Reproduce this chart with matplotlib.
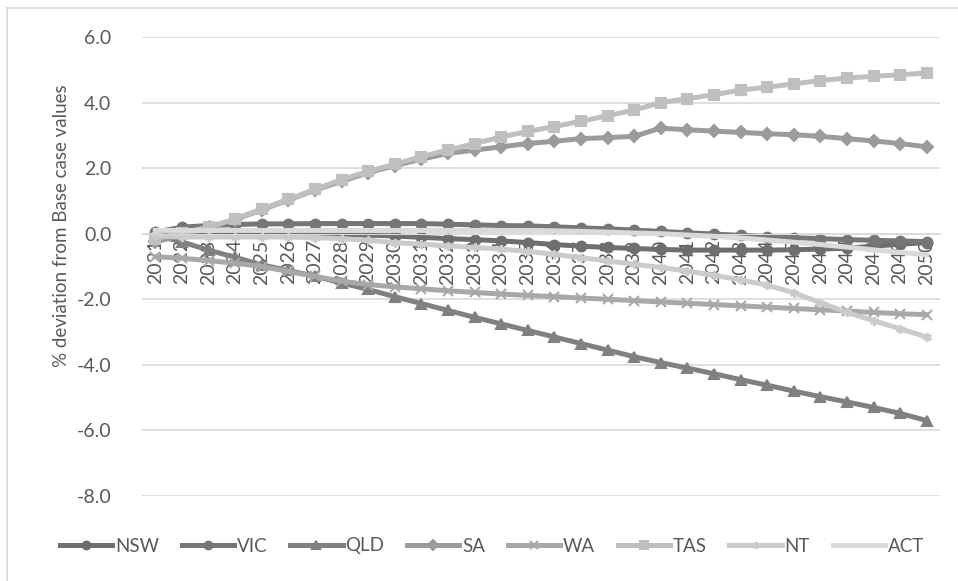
import matplotlib
matplotlib.use("Agg")
from matplotlib import pyplot as plt
from matplotlib.patches import Rectangle

# data (% deviation from base case)
years = list(range(2021, 2051))

nsw = [0.0, 0.0, 0.0, 0.0, 0.0, 0.0, 0.0, -0.02, -0.04, -0.07, -0.11, -0.15, -0.18, -0.22, -0.27,
       -0.33, -0.38, -0.42, -0.45, -0.48, -0.5, -0.5, -0.5, -0.5, -0.49, -0.47, -0.44, -0.38, -0.32, -0.27]
vic = [0.05, 0.2, 0.25, 0.28, 0.3, 0.3, 0.31, 0.31, 0.31, 0.31, 0.31, 0.29, 0.27, 0.25, 0.24,
       0.21, 0.18, 0.15, 0.11, 0.07, 0.03, -0.01, -0.05, -0.09, -0.12, -0.15, -0.18, -0.2, -0.22, -0.24]
qld = [-0.05, -0.25, -0.5, -0.72, -0.95, -1.12, -1.3, -1.5, -1.7, -1.92, -2.13, -2.34, -2.55, -2.75, -2.95,
       -3.15, -3.35, -3.55, -3.75, -3.93, -4.1, -4.27, -4.45, -4.62, -4.8, -4.97, -5.13, -5.3, -5.48, -5.7]
sa = [-0.25, -0.05, 0.18, 0.43, 0.73, 1.03, 1.33, 1.6, 1.86, 2.08, 2.27, 2.45, 2.55, 2.65, 2.75,
      2.82, 2.9, 2.93, 2.97, 3.22, 3.17, 3.13, 3.09, 3.05, 3.02, 2.97, 2.9, 2.83, 2.75, 2.65]
wa = [-0.7, -0.75, -0.82, -0.9, -1.0, -1.15, -1.3, -1.45, -1.55, -1.62, -1.68, -1.74, -1.79, -1.84, -1.88,
      -1.92, -1.96, -2.0, -2.04, -2.08, -2.12, -2.16, -2.2, -2.24, -2.28, -2.32, -2.36, -2.4, -2.44, -2.47]
tas = [-0.15, 0.02, 0.2, 0.45, 0.75, 1.05, 1.35, 1.65, 1.9, 2.12, 2.35, 2.55, 2.75, 2.95, 3.12,
       3.27, 3.43, 3.6, 3.77, 4.0, 4.12, 4.24, 4.38, 4.47, 4.57, 4.67, 4.75, 4.8, 4.85, 4.9]
nt = [-0.05, -0.1, -0.1, -0.1, -0.1, -0.1, -0.12, -0.15, -0.2, -0.27, -0.32, -0.37, -0.42, -0.47, -0.54,
      -0.63, -0.73, -0.83, -0.93, -1.03, -1.14, -1.27, -1.41, -1.57, -1.8, -2.1, -2.4, -2.65, -2.9, -3.15]
act = [0.1, 0.1, 0.1, 0.1, 0.1, 0.1, 0.1, 0.1, 0.1, 0.1, 0.1, 0.1, 0.1, 0.1, 0.1,
       0.09, 0.07, 0.05, 0.02, 0.0, -0.04, -0.08, -0.13, -0.19, -0.26, -0.33, -0.41, -0.49, -0.57, -0.64]

names = ["NSW", "VIC", "QLD", "SA", "WA", "TAS", "NT", "ACT"]
series = [nsw, vic, qld, sa, wa, tas, nt, act]

# tons de cinza estilo excel + marcadores
colores = ["#6e6e6e", "#767676", "#808080", "#9b9b9b", "#a8a8a8", "#bfbfbf", "#cbcbcb", "#dadada"]
marcas = ["o", "o", "^", "D", "x", "s", (6, 2, 0), None]

plt.rcParams['font.family'] = ['Lato', 'DejaVu Sans']

fig = plt.figure(figsize=(9.58, 5.81), dpi=100)
ax = fig.add_axes([142/958, 1 - 496/581, (940 - 142)/958, (496 - 37)/581])

# borda cinza do grafico
fig.patches.append(Rectangle((7/958, -0.05), 1.1, 1 - 8/581 + 0.05, transform=fig.transFigure,
                             fill=False, edgecolor="#d9d9d9", lw=1.2))

xs = range(len(years))
for nome, y, cor, m in zip(names, series, colores, marcas):
    ms = 7 if m in ("o", "s") else 6.5
    ax.plot(xs, y, color=cor, lw=3.6, marker=m, markersize=ms,
            markeredgecolor=cor, markerfacecolor=cor, markeredgewidth=1.5, label=nome)

ax.set_ylim(-8, 6)
ax.set_xlim(-0.5, len(years) - 0.5)
ax.set_yticks([-8, -6, -4, -2, 0, 2, 4, 6])
ax.set_yticklabels(["%.1f" % v for v in [-8, -6, -4, -2, 0, 2, 4, 6]])
ax.grid(axis="y", color="#d9d9d9", lw=1.2)
ax.set_axisbelow(True)

ax.spines['bottom'].set_position(('data', 0))
ax.spines['bottom'].set_color("#d9d9d9")
for s in ['left', 'right', 'top']:
    ax.spines[s].set_visible(False)
# depois do set_position, senao perde a rotacao
ax.set_xticks(list(xs))
ax.set_xticklabels([str(a) for a in years])
ax.tick_params(axis="x", length=0, pad=4, labelsize=14, labelcolor="#595959", labelrotation=90)
ax.tick_params(axis="y", length=0, pad=22, labelsize=14, labelcolor="#595959")

ax.set_ylabel("% deviation from Base case values", fontsize=13.5, color="#595959")
ax.yaxis.set_label_coords(-0.09, 0.59)

fig.legend(loc="center", bbox_to_anchor=(492/958, 1 - 546/581), ncol=8, frameon=False,
           fontsize=13.5, handlelength=2.8, columnspacing=1.2, handletextpad=0.15,
           labelcolor="#595959", markerscale=0.8)

plt.savefig("out.png", dpi=100)
